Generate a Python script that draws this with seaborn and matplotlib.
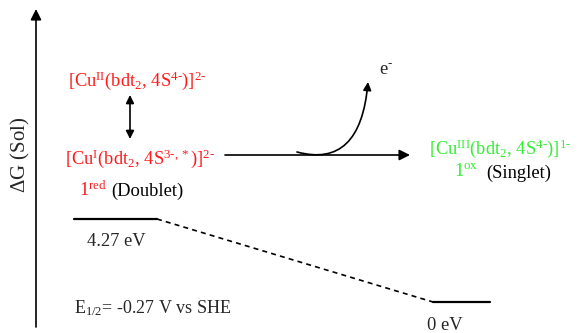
import matplotlib
matplotlib.use("Agg")
import matplotlib.pyplot as plt
import seaborn as sns
import pandas as pd

# ---- data ----
states = ["1red", "1ox"]
energies_eV = [4.27, 0.0]
energy_labels = ["4.27 eV", "0 eV"]
species = [r"[Cu$^{\mathrm{I}}$(bdt$_2$, 4S$^{3\text{-},*}$)]$^{2\text{-}}$",
           r"[Cu$^{\mathrm{III}}$(bdt$_2$, 4S$^{4\text{-}}$)]$^{1\text{-}}$"]
intermediate = r"[Cu$^{\mathrm{II}}$(bdt$_2$, 4S$^{4\text{-}}$)]$^{2\text{-}}$"
e_half = r"E$_{1/2}$= -0.27 V vs SHE"

sns.set_theme(style="white")
plt.rcParams["font.family"] = ["Liberation Serif", "DejaVu Serif"]
plt.rcParams["mathtext.fontset"] = "custom"
plt.rcParams["mathtext.rm"] = "Liberation Serif"
plt.rcParams["mathtext.it"] = "Liberation Serif:italic"
plt.rcParams["mathtext.bf"] = "Liberation Serif:bold"

W, H = 578, 333
fig = plt.figure(figsize=(W / 100, H / 100), dpi=100)
ax = fig.add_axes([0, 0, 1, 1])

# scale: pixel y of 0 eV = 302, 4.27 eV = 219
s = (302 - 219) / 4.27
def py(p):  # pixel row -> energy
    return (302 - p) / s
ax.set_xlim(0, W)
ax.set_ylim(py(H), py(0))
ax.axis("off")

FS = 13.3

# level segments
x_spans = [(74, 157), (433, 490)]
rows = []
for st, e, (x0, x1) in zip(states, energies_eV, x_spans):
    rows.append({"state": st, "x": x0, "E": e})
    rows.append({"state": st, "x": x1, "E": e})
df = pd.DataFrame(rows)
sns.lineplot(data=df, x="x", y="E", units="state", estimator=None,
             color="black", lw=1.6, ax=ax, legend=False)

# dashed connector
ax.plot([x_spans[0][1], x_spans[1][0]], energies_eV, color="black",
        lw=1.2, ls=(0, (3, 2.5)))

# energy labels
ax.text(116, py(242), energy_labels[0], ha="center", va="center", fontsize=FS)
ax.text(445, py(326), energy_labels[1], ha="center", va="center", fontsize=FS)

# vertical axis arrow
ax.annotate("", xy=(36, py(9)), xytext=(36, py(327)),
            arrowprops=dict(arrowstyle="-|>", color="black", lw=1.2,
                            mutation_scale=16, shrinkA=0, shrinkB=0))
ax.text(20, py(155), r"$\Delta$G (Sol)", rotation=90, ha="center",
        va="center", fontsize=15)

red = "#ff1a1a"
green = "#33ee33"
ax.text(137, py(81), intermediate, color=red, ha="center", va="center", fontsize=FS)
ax.text(140, py(159), species[0], color=red, ha="center", va="center", fontsize=FS)
ax.text(79, py(190), r"1$^{\mathrm{red}}$", color=red, ha="left", va="center", fontsize=FS)
ax.text(111, py(191), "(Doublet)", color="black", ha="left", va="center", fontsize=FS)

ax.text(500, py(149), species[1], color=green, ha="center", va="center", fontsize=FS)
ax.text(454, py(172), r"1$^{\mathrm{ox}}$", color=green, ha="left", va="center", fontsize=FS)
ax.text(486, py(173), "(Singlet)", color="black", ha="left", va="center", fontsize=FS)

# double arrow
ax.annotate("", xy=(130, py(95)), xytext=(130, py(139)),
            arrowprops=dict(arrowstyle="<|-|>", color="black", lw=1.2,
                            mutation_scale=12, shrinkA=0, shrinkB=0))

# horizontal reaction arrow
ax.annotate("", xy=(410, py(155)), xytext=(225, py(155)),
            arrowprops=dict(arrowstyle="-|>", color="black", lw=1.2,
                            mutation_scale=16, shrinkA=0, shrinkB=0))

# curved electron arrow
ax.annotate("", xy=(368, py(82)), xytext=(297, py(152)),
            arrowprops=dict(arrowstyle="-|>", color="black", lw=1.2,
                            mutation_scale=12, shrinkA=0, shrinkB=0,
                            connectionstyle="angle3,angleA=-15,angleB=85"))
ax.text(386, py(70), r"e$^{\text{-}}$", ha="center", va="center", fontsize=FS)

ax.text(74, py(308), e_half, ha="left", va="center", fontsize=13)

fig.savefig("out.png", dpi=100, facecolor="white")
